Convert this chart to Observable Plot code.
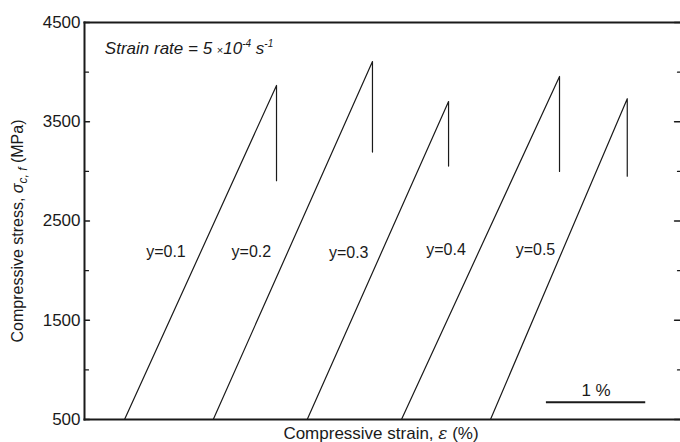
<!DOCTYPE html>
<html><head><meta charset="utf-8">
<script src="https://cdn.jsdelivr.net/npm/d3@7"></script>
<script src="https://cdn.jsdelivr.net/npm/@observablehq/plot@0.6"></script>
<style>body{margin:0;background:#fff} svg{display:block;font-family:"Liberation Sans",Arial,sans-serif}</style>
</head><body><div id="chart"></div>
<script>
// ---- data ----
const series = ["y=0.1", "y=0.2", "y=0.3", "y=0.4", "y=0.5"];
// each curve: start of loading, peak (fracture), end of vertical drop
const strainPts = [
  [0.403, 1.933, 1.933],
  [1.296, 2.899, 2.899],
  [2.242, 3.665, 3.665],
  [3.191, 4.782, 4.782],
  [4.087, 5.464, 5.464]
];
const stressPts = [
  [500, 3866, 2906],
  [500, 4107, 3194],
  [500, 3704, 3053],
  [500, 3956, 3000],
  [500, 3732, 2952]
];
const labelStrain = [0.82, 1.68, 2.66, 3.64, 4.54];
const labelStress = [2189, 2189, 2179, 2207, 2207];
const yTickLabels = [500, 1500, 2500, 3500, 4500];
const yMinorTicks = [1000, 2000, 3000, 4000];
const xDomain = [0, 6];
const yDomain = [500, 4500];
const scaleBarStrain = [4.65, 5.65];
const scaleBarStress = 673;
const scaleBarLabel = "1 %";
const rateNoteStrain = 0.21, rateNoteStress = 4180;

// ---- build table ----
const rows = [];
series.forEach((s, i) => strainPts[i].forEach((x, j) => rows.push({series: s, strain: x, stress: stressPts[i][j]})));
const labels = series.map((s, i) => ({text: s, strain: labelStrain[i], stress: labelStress[i]}));

const tickShape = {draw(ctx, l) { ctx.moveTo(0, 0); ctx.lineTo(0, -l); }};
const ink = "#1a1a1a";

const plot = Plot.plot({
  width: 680, height: 442,
  marginLeft: 84, marginRight: 0, marginTop: 22, marginBottom: 23,
  style: {fontFamily: '"Liberation Sans", Arial, sans-serif', background: "#fff", overflow: "visible"},
  x: {domain: xDomain, axis: null},
  y: {domain: yDomain},
  marks: [
    Plot.axisY({ticks: yTickLabels, tickFormat: d3.format("d"), tickSize: 0, tickPadding: 4, fontSize: 17, label: null, fill: ink}),
    // inward ticks, left and right
    Plot.vector(yTickLabels, {x: () => xDomain[0], y: d => d, length: 5, rotate: 90, anchor: "start", shape: tickShape, stroke: ink, strokeWidth: 1.3}),
    Plot.vector(yMinorTicks, {x: () => xDomain[0], y: d => d, length: 4, rotate: 90, anchor: "start", shape: tickShape, stroke: ink, strokeWidth: 1.2}),
    Plot.vector(yTickLabels, {x: () => xDomain[1], y: d => d, length: 6, rotate: -90, anchor: "start", shape: tickShape, stroke: ink, strokeWidth: 1.3}),
    Plot.vector(yMinorTicks, {x: () => xDomain[1], y: d => d, length: 3, rotate: -90, anchor: "start", shape: tickShape, stroke: ink, strokeWidth: 1.2}),
    Plot.frame({anchor: "left", stroke: ink, strokeWidth: 2}),
    Plot.frame({anchor: "top", stroke: ink, strokeWidth: 2}),
    Plot.frame({anchor: "bottom", stroke: ink, strokeWidth: 2}),
    Plot.line(rows, {x: "strain", y: "stress", z: "series", stroke: ink, strokeWidth: 1.2}),
    Plot.text(labels, {x: "strain", y: "stress", text: "text", fontSize: 16, fill: ink}),
    Plot.ruleY([scaleBarStress], {x1: scaleBarStrain[0], x2: scaleBarStrain[1], stroke: ink, strokeWidth: 2}),
    Plot.text([scaleBarLabel], {x: (scaleBarStrain[0] + scaleBarStrain[1]) / 2, y: scaleBarStress, dy: -12, text: d => d, fontSize: 17, fill: ink})
  ]
});

const svg = d3.select(plot);
const sx = plot.scale("x"), sy = plot.scale("y");

// strain-rate note with real superscripts
const note = svg.append("text")
  .attr("x", sx.apply(rateNoteStrain)).attr("y", sy.apply(rateNoteStress))
  .attr("text-anchor", "start")
  .attr("font-size", 17).attr("font-style", "italic").attr("fill", ink);
note.append("tspan").text("Strain rate = 5 ");
note.append("tspan").attr("font-size", 11).attr("font-style", "normal").text("\u00d7");
note.append("tspan").text("10");
note.append("tspan").attr("font-size", 10).attr("dy", -7).text("-4");
note.append("tspan").attr("dy", 7).text(" s");
note.append("tspan").attr("font-size", 10).attr("dy", -7).text("-1");

// axis titles with sub/sup formatting
const yl = svg.append("text")
  .attr("transform", "translate(23,231) rotate(-90)")
  .attr("text-anchor", "middle").attr("font-size", 16).attr("fill", ink);
yl.append("tspan").text("Compressive stress, ");
yl.append("tspan").attr("font-style", "italic").text("\u03c3");
yl.append("tspan").attr("font-style", "italic").attr("font-size", 12).attr("dy", 4).text("c, f");
yl.append("tspan").attr("dy", -4).text(" (MPa)");

const xl = svg.append("text")
  .attr("x", 381).attr("y", 439)
  .attr("text-anchor", "middle").attr("font-size", 17).attr("fill", ink);
xl.append("tspan").text("Compressive strain, ");
xl.append("tspan").attr("font-style", "italic").attr("font-family", '"DejaVu Serif", serif').text("\u03b5");
xl.append("tspan").text(" (%)");

document.getElementById("chart").appendChild(plot);
</script>
</body></html>
